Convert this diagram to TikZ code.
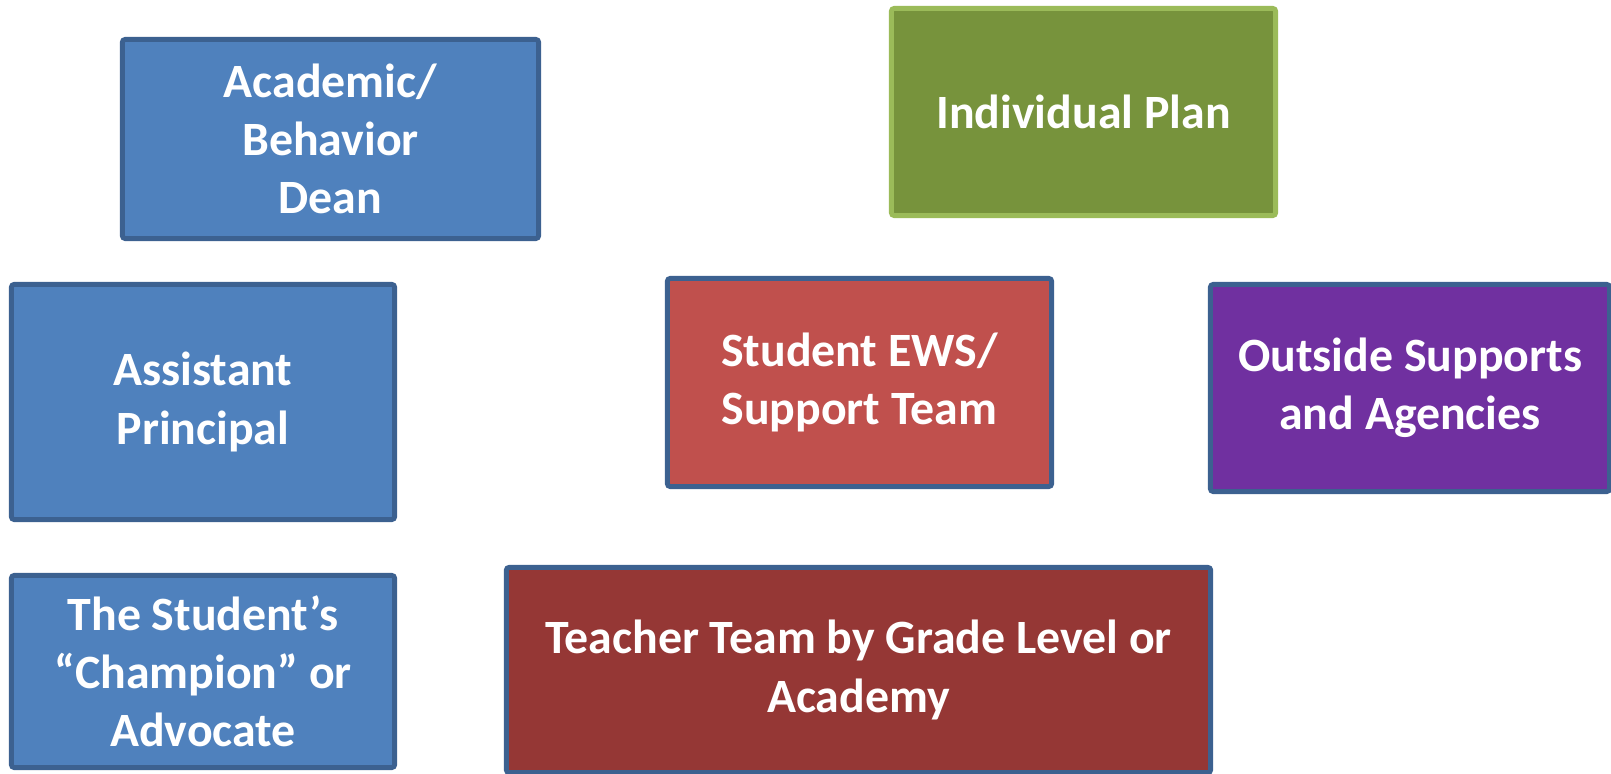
\documentclass[tikz,border=0pt]{standalone}
\usepackage{fontspec}
\setmainfont{Carlito}
\usepackage{xcolor}
\usepackage{tikz}
\usetikzlibrary{positioning}
\definecolor{accblue}{HTML}{4F81BD}
\definecolor{edgeblue}{HTML}{3C6190}
\definecolor{planfill}{HTML}{77933C}
\definecolor{planedge}{HTML}{9BBB59}
\definecolor{ewsfill}{HTML}{C0504D}
\definecolor{teamfill}{HTML}{953735}
\definecolor{outsfill}{HTML}{7030A0}
\tikzset{rec/.style={rectangle,draw=edgeblue,line width=1.4pt,rounded corners=0.8pt,fill=accblue,text=white,align=center,inner sep=0pt,font=\fontsize{13.6}{16.5}\selectfont\bfseries}}
\tikzset{grn/.style={rec,draw=planedge,fill=planfill}}

\begin{document}
\begin{tikzpicture}[x=0.01cm,y=-0.01cm]
        \useasboundingbox (0,0) rectangle (1611,774);
        \node[rec, minimum width=4.16cm, minimum height=1.99cm] (acad) at (330.5,139) {Academic/\\Behavior\\Dean};
        \node[grn, minimum width=3.84cm, minimum height=2.07cm] (plan) at (1083.5,112) {Individual Plan};
        \node[rec, minimum width=3.83cm, minimum height=2.35cm] (asst) at (203,402) {Assistant\\Principal};
        \node[rec, fill=ewsfill, minimum width=3.84cm, minimum height=2.08cm] (ews) at (859.5,382.5) {Student EWS/\\Support Team};
        \node[rec, fill=outsfill, minimum width=3.99cm, minimum height=2.07cm] (outs) at (1410,388) {Outside Supports\\and Agencies};
        \node[rec, minimum width=3.83cm, minimum height=1.92cm] (champ) at (203,671.5) {The Student’s\\“Champion” or\\Advocate};
        \node[rec, fill=teamfill, minimum width=7.04cm, minimum height=2.05cm] (team) at (858.5,670) {Teacher Team by Grade Level or\\Academy};
    \end{tikzpicture}
\end{document}
